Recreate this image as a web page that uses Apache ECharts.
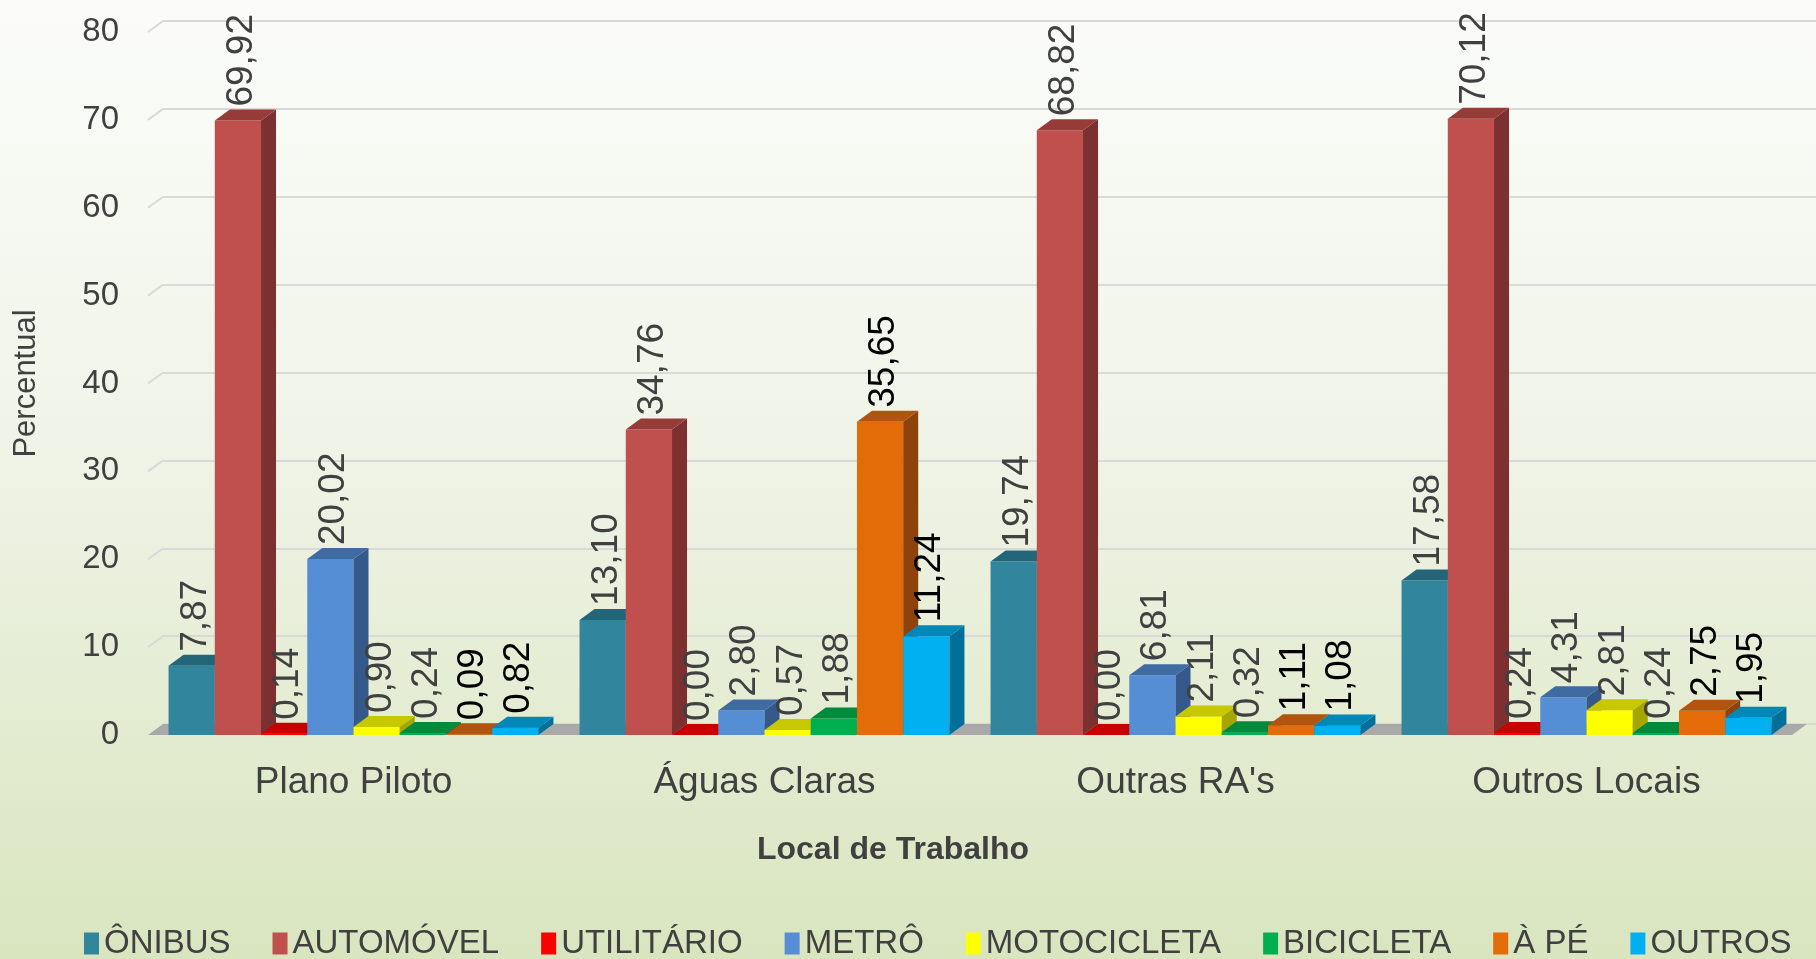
<!DOCTYPE html>
<html>
<head>
<meta charset="utf-8">
<title>Local de Trabalho</title>
<script src="https://cdn.jsdelivr.net/npm/echarts@6/dist/echarts.min.js"></script>
<style>
  html, body { margin: 0; padding: 0; }
  #chart { width: 1816px; height: 959px; }
</style>
</head>
<body>
<div id="chart"></div>
<script>
// categories and series values (percent)
const categories = ['Plano Piloto', 'Águas Claras', "Outras RA's", 'Outros Locais']
const seriesNames = ['ÔNIBUS', 'AUTOMÓVEL', 'UTILITÁRIO', 'METRÔ', 'MOTOCICLETA', 'BICICLETA', 'À PÉ', 'OUTROS']
const onibus = [7.87, 13.10, 19.74, 17.58]
const automovel = [69.92, 34.76, 68.82, 70.12]
const utilitario = [0.14, 0.00, 0.00, 0.24]
const metro = [20.02, 2.80, 6.81, 4.31]
const motocicleta = [0.90, 0.57, 2.11, 2.81]
const bicicleta = [0.24, 1.88, 0.32, 0.24]
const aPe = [0.09, 35.65, 1.11, 2.75]
const outros = [0.82, 11.24, 1.08, 1.95]
const yTicks = [0, 10, 20, 30, 40, 50, 60, 70, 80]

const values = [onibus, automovel, utilitario, metro, motocicleta, bicicleta, aPe, outros]

// front / top / side shades for each series
const colors = [
  { front: '#31859C', top: '#23667A', side: '#1F5868', label: '#404040' },
  { front: '#C0504D', top: '#973B39', side: '#7D3030', label: '#404040' },
  { front: '#FF0000', top: '#C80000', side: '#A00000', label: '#404040' },
  { front: '#558ED5', top: '#3F6BA3', side: '#35598A', label: '#404040' },
  { front: '#FFFF00', top: '#C8C800', side: '#A6A600', label: '#404040' },
  { front: '#00B050', top: '#008A3C', side: '#007433', label: '#404040' },
  { front: '#E36C09', top: '#B0540E', side: '#8E430C', label: '#000000' },
  { front: '#00B0F0', top: '#0088B8', side: '#00709A', label: '#000000' }
]

const DX = 15   // depth, horizontal
const DY = 11   // depth, vertical
const GAP = 0.1
const N = seriesNames.length
const FONT = '"Liberation Sans", Arial, sans-serif'

const chart = echarts.init(document.getElementById('chart'))

function fmt(v) {
  return v.toFixed(2).replace('.', ',')
}

function barRender(si) {
  return function (params, api) {
    const cat = api.value(0)
    const v = api.value(1)
    const band = api.size([1, 0])[0]
    const bw = band * (1 - GAP) / N
    const base = api.coord([cat, 0])
    const yv = api.coord([cat, v])[1]
    const y0 = base[1]
    const x = base[0] - bw * N / 2 + si * bw
    const c = colors[si]
    return {
      type: 'group',
      children: [
        {
          type: 'rect',
          shape: { x: x, y: yv, width: bw, height: y0 - yv },
          style: { fill: c.front }
        },
        {
          type: 'polygon',
          shape: { points: [[x + bw, yv], [x + bw, y0], [x + bw + DX, y0 - DY], [x + bw + DX, yv - DY]] },
          style: { fill: c.side }
        },
        {
          type: 'polygon',
          shape: { points: [[x, yv], [x + bw, yv], [x + bw + DX, yv - DY], [x + DX, yv - DY]] },
          style: { fill: c.top }
        },
        {
          type: 'text',
          x: x + bw / 2 + DX / 4,
          y: yv - DY - 3,
          rotation: Math.PI / 2,
          z2: 10,
          style: {
            text: fmt(v),
            fill: c.label,
            font: '37px ' + FONT,
            align: 'left',
            verticalAlign: 'middle'
          }
        }
      ]
    }
  }
}

// gray floor under the bars
function floorRender(params, api) {
  const cs = params.coordSys
  const y0 = cs.y + cs.height
  const x1 = cs.x
  const x2 = cs.x + cs.width
  return {
    type: 'polygon',
    shape: { points: [[x1, y0], [x2, y0], [x2 + DX, y0 - DY], [x1 + DX, y0 - DY]] },
    style: { fill: '#A9A9A9' }
  }
}

// short diagonal at the start of each wall gridline
function diagRender(params, api) {
  const p = api.coord([0, api.value(0)])
  const x1 = params.coordSys.x
  return {
    type: 'line',
    shape: { x1: x1, y1: p[1], x2: x1 + DX, y2: p[1] - DY },
    style: { stroke: '#D9D9D9', lineWidth: 2 }
  }
}

const series = [
  {
    type: 'custom',
    name: 'diag',
    xAxisIndex: 0, yAxisIndex: 0,
    renderItem: diagRender,
    data: yTicks.slice(1).map(t => [t]),
    encode: { y: 0 },
    silent: true,
    z: 1
  },
  {
    type: 'custom',
    name: 'floor',
    xAxisIndex: 0, yAxisIndex: 0,
    renderItem: floorRender,
    data: [[0, 0]],
    silent: true,
    z: 1
  }
]
seriesNames.forEach((name, si) => {
  series.push({
    type: 'custom',
    name: name,
    xAxisIndex: 0, yAxisIndex: 0,
    renderItem: barRender(si),
    itemStyle: { color: colors[si].front },
    encode: { x: 0, y: 1 },
    data: values[si].map((v, i) => [i, v]),
    z: 2
  })
})

const option = {
  backgroundColor: {
    type: 'linear', x: 0, y: 0, x2: 0, y2: 1,
    colorStops: [
      { offset: 0, color: '#FBFCFA' },
      { offset: 0.45, color: '#F0F4E8' },
      { offset: 1, color: '#D9E5BF' }
    ]
  },
  textStyle: { fontFamily: FONT },
  grid: [
    { left: 148, right: 24, top: 32, bottom: 224 },
    { left: 163, right: 0, top: 21, bottom: 235 }
  ],
  legend: {
    data: seriesNames.map(n => ({ name: n, icon: 'rect' })),
    top: 922,
    left: 79,
    itemWidth: 15,
    itemHeight: 22,
    itemGap: 42,
    textStyle: { fontSize: 33, color: '#404040', fontFamily: FONT }
  },
  xAxis: [
    {
      type: 'category',
      gridIndex: 0,
      data: categories,
      axisLine: { show: false },
      axisTick: { show: false },
      axisLabel: { fontSize: 37, color: '#404040', margin: 29, fontFamily: FONT },
      name: 'Local de Trabalho',
      nameLocation: 'middle',
      nameGap: 99,
      nameTextStyle: {
        fontSize: 32, fontWeight: 'bold', color: '#404040', fontFamily: FONT,
        padding: [0, 154, 0, 0]
      }
    },
    { type: 'value', gridIndex: 1, show: false, min: 0, max: 1 }
  ],
  yAxis: [
    {
      type: 'value',
      gridIndex: 0,
      min: 0, max: 80, interval: 10,
      axisLine: { show: false },
      axisTick: { show: false },
      splitLine: { show: false },
      axisLabel: { fontSize: 33, color: '#404040', margin: 29, fontFamily: FONT },
      name: 'Percentual',
      nameLocation: 'middle',
      nameGap: 106,
      nameTextStyle: { fontSize: 31, color: '#404040', fontFamily: FONT }
    },
    {
      type: 'value',
      gridIndex: 1,
      min: 0, max: 80, interval: 10,
      axisLine: { show: false },
      axisTick: { show: false },
      axisLabel: { show: false },
      splitLine: { lineStyle: { color: '#D9D9D9', width: 2 } }
    }
  ],
  series: series
}

chart.setOption(option)
</script>
</body>
</html>
